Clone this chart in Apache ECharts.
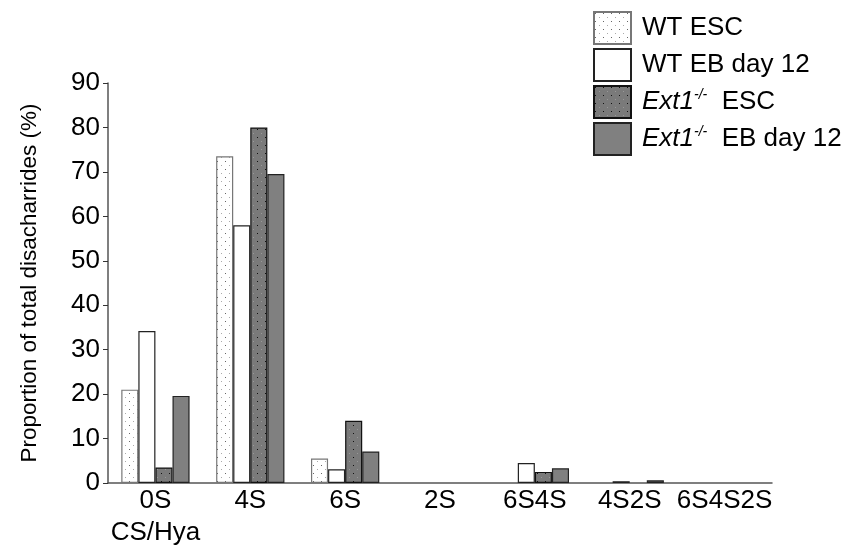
<!DOCTYPE html>
<html>
<head>
<meta charset="utf-8">
<script src="https://cdn.jsdelivr.net/npm/echarts@6/dist/echarts.min.js"></script>
<style>
  html, body { margin: 0; padding: 0; background: #fff; }
  #chart { width: 853px; height: 557px; }
</style>
</head>
<body>
<div id="chart"></div>
<script>
const categories = ['0S\nCS/Hya', '4S', '6S', '2S', '6S4S', '4S2S', '6S4S2S'];
const seriesNames = ['WT ESC', 'WT EB day 12', 'Ext1-/- ESC', 'Ext1-/- EB day 12'];
const wtEsc = [21, 73.5, 5.5, 0, 0, 0, 0];
const wtEb12 = [34.2, 58, 3.1, 0, 4.5, 0.4, 0];
const extEsc = [3.5, 80, 14, 0, 2.5, 0, 0];
const extEb12 = [19.6, 69.5, 7.1, 0, 3.3, 0.6, 0];
const yTicks = [0, 10, 20, 30, 40, 50, 60, 70, 80, 90];

// dotted fill like the original figure
function dots(base, dot, alt) {
    const c = document.createElement('canvas');
    c.width = 8; c.height = 8;
    const g = c.getContext('2d');
    g.fillStyle = base;
    g.fillRect(0, 0, 8, 8);
    g.fillStyle = dot;
    g.fillRect(1, 1, 1, 1);
    g.fillStyle = alt;
    g.fillRect(5, 5, 1, 1);
    return { image: c, repeat: 'repeat' };
}

const styles = [
    { color: dots('#ffffff', '#666666', '#aaaaaa'), borderColor: '#777777' },
    { color: '#ffffff', borderColor: '#222222' },
    { color: dots('#7a7a7a', '#111111', '#999999'), borderColor: '#111111' },
    { color: '#808080', borderColor: '#222222' }
];
const datas = [wtEsc, wtEb12, extEsc, extEb12];
const font = 'Liberation Sans';

const chart = echarts.init(document.getElementById('chart'));
chart.setOption({
    animation: false,
    grid: { left: 108, right: 81, top: 83, bottom: 74, containLabel: false },
    legend: {
        orient: 'vertical',
        left: 593,
        top: 11,
        padding: 0,
        itemWidth: 37,
        itemHeight: 32,
        itemGap: 3,
        icon: 'rect',
        data: seriesNames,
        formatter: function (name) {
            if (name.indexOf('Ext1') === 0) {
                return '{g|}{i|Ext1}{s|-/-}{t|  ' + name.replace('Ext1-/- ', '') + '}';
            }
            return '{g|}{t|' + name + '}';
        },
        textStyle: {
            color: '#000',
            fontFamily: font,
            fontSize: 26,
            rich: {
                g: { width: 6 },
                t: { fontSize: 26, color: '#000', fontFamily: font },
                i: { fontSize: 26, color: '#000', fontStyle: 'italic', fontFamily: font },
                s: { fontSize: 14, color: '#000', fontStyle: 'italic', fontFamily: font, verticalAlign: 'top', padding: [0, 0, 13, 0] }
            }
        }
    },
    xAxis: {
        type: 'category',
        data: categories,
        axisLine: { lineStyle: { color: '#555', width: 1.5 } },
        axisTick: { show: false },
        axisLabel: {
            color: '#000',
            fontSize: 26,
            fontFamily: font,
            lineHeight: 32,
            margin: 2,
            interval: 0
        }
    },
    yAxis: {
        type: 'value',
        min: 0,
        max: 90,
        interval: 10,
        name: 'Proportion of total disacharrides (%)',
        nameLocation: 'middle',
        nameGap: 67,
        nameTextStyle: { color: '#000', fontSize: 22.5, fontFamily: font },
        splitLine: { show: false },
        axisLine: { show: true, lineStyle: { color: '#555', width: 1.5 } },
        axisTick: { show: true, length: 5, lineStyle: { color: '#333' } },
        axisLabel: {
            color: '#000',
            fontSize: 26,
            fontFamily: font,
            margin: 8,
            formatter: function (v) { return yTicks.indexOf(v) >= 0 ? String(v) : ''; }
        }
    },
    series: seriesNames.map(function (name, i) {
        return {
            name: name,
            type: 'bar',
            // zero-height entries are not drawn in the original
            data: datas[i].map(function (v) { return v === 0 ? null : v; }),
            barGap: '0%',
            barCategoryGap: '28%',
            itemStyle: {
                color: styles[i].color,
                borderColor: styles[i].borderColor,
                borderWidth: 1.2
            }
        };
    })
});
</script>
</body>
</html>
